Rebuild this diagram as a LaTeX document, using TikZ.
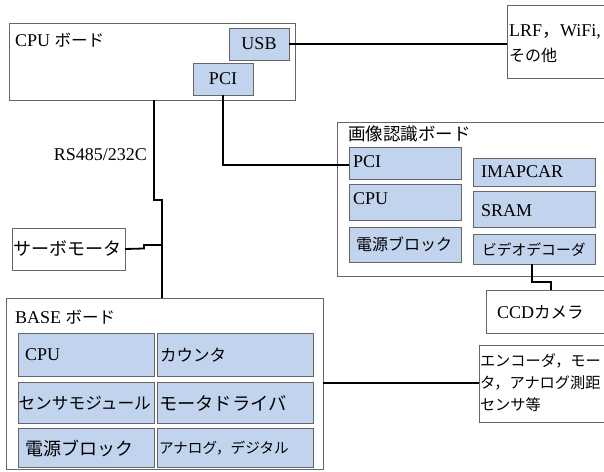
\documentclass[tikz,border=0pt]{standalone}
\usepackage{fontspec}
\setmainfont{Liberation Serif}
\newfontfamily\jp{Noto Sans CJK JP}
\begin{document}
\begin{tikzpicture}[x=1pt,y=-1pt,
  every node/.style={inner sep=0pt, outer sep=0pt},
  board/.style={draw=black!60, fill=white, line width=1pt, anchor=north west},
  cell/.style={draw=black!60, fill=cellblue, line width=1pt, anchor=north west},
  wire/.style={draw=black, line width=1.8pt},
  lbl/.style={font=\fontsize{18}{20}\selectfont, anchor=west},
  clbl/.style={font=\fontsize{18}{20}\selectfont}
]
\definecolor{cellblue}{RGB}{194,211,237}
\clip (0,0) rectangle (604,471);
\fill[white] (0,0) rectangle (604,471);

% CPU board
\node[board, minimum width=286pt, minimum height=77pt] (cpub) at (9,23) {};
\node[lbl] (cpubt) at (15,40) {CPU {\jp\fontsize{16.5}{18}\selectfont ボード}};
\node[cell, minimum width=60pt, minimum height=32pt] (usb) at (229,28) {};
\node[clbl] at (usb.center) {USB};
\node[cell, minimum width=60pt, minimum height=32pt] (pci1) at (193,63) {};
\node[clbl] at (pci1.center) {PCI};

% LRF
\node[board, minimum width=110pt, minimum height=73pt] (lrf) at (507,5) {};
\node[lbl] (lrft1) at (509,32) {LRF{\jp ，}WiFi,};
\node[lbl] (lrft2) at (509,55) {\jp\fontsize{16}{18}\selectfont その他};

% Image board
\node[board, minimum width=280pt, minimum height=154pt] (imgb) at (337,122) {};
\node[lbl] (imgbt) at (348,134) {\jp\fontsize{17.5}{18}\selectfont 画像認識ボード};
\node[cell, minimum width=112pt, minimum height=32pt] (pci2) at (349,147) {};
\node[lbl] at (353,162) {PCI};
\node[cell, minimum width=112pt, minimum height=36pt] (cpu2) at (349,184) {};
\node[lbl] at (353,199) {CPU};
\node[cell, minimum width=112pt, minimum height=35pt] (pow2) at (349,227) {};
\node[lbl] at (356,244) {\jp\fontsize{16}{18}\selectfont 電源ブロック};
\node[cell, minimum width=122pt, minimum height=28pt] (imap) at (473,158) {};
\node[lbl] at (481,172) {IMAPCAR};
\node[cell, minimum width=122pt, minimum height=36pt] (sram) at (473,191) {};
\node[lbl] at (481,211) {SRAM};
\node[cell, minimum width=122pt, minimum height=30pt] (vdec) at (473,234) {};
\node[lbl] at (482,250) {\jp\fontsize{14.8}{18}\selectfont ビデオデコーダ};

% CCD camera
\node[board, minimum width=130pt, minimum height=43pt] (ccd) at (486,290) {};
\node[lbl] at (497,312) {CCD{\jp\fontsize{16.5}{18}\selectfont カメラ}};

% Encoder
\node[board, minimum width=130pt, minimum height=77pt] (enc) at (479,345) {};
\node[lbl] at (480,361) {\jp\fontsize{15.2}{18}\selectfont エンコーダ，モー};
\node[lbl] at (480,383) {\jp\fontsize{15.2}{18}\selectfont タ，アナログ測距};
\node[lbl] at (480,405) {\jp\fontsize{15.2}{18}\selectfont センサ等};

% Servo
\node[board, minimum width=113pt, minimum height=42pt] (servo) at (12,228) {};
\node[lbl] at (13,249) {\jp\fontsize{18}{18}\selectfont サーボモータ};

% BASE board
\node[board, minimum width=317pt, minimum height=171pt] (base) at (6,298) {};
\node[lbl] at (15,317) {BASE {\jp\fontsize{16.5}{18}\selectfont ボード}};
\node[cell, minimum width=136pt, minimum height=43pt] (cpu3) at (18,333) {};
\node[lbl] at (25,355) {CPU};
\node[cell, minimum width=156pt, minimum height=43pt] (cnt) at (157,333) {};
\node[lbl] at (160,355) {\jp\fontsize{16.5}{18}\selectfont カウンタ};
\node[cell, minimum width=136pt, minimum height=41pt] (sens) at (18,382) {};
\node[lbl] at (18.5,403) {\jp\fontsize{16.7}{18}\selectfont センサモジュール};
\node[cell, minimum width=156pt, minimum height=41pt] (mdrv) at (157,382) {};
\node[lbl] at (159,403) {\jp\fontsize{18.3}{18}\selectfont モータドライバ};
\node[cell, minimum width=136pt, minimum height=39pt] (pow3) at (18,428) {};
\node[lbl] at (25,448) {\jp\fontsize{18}{18}\selectfont 電源ブロック};
\node[cell, minimum width=156pt, minimum height=39pt] (ana) at (157,428) {};
\node[lbl] at (159,448) {\jp\fontsize{14.6}{18}\selectfont アナログ，デジタル};

% RS485 label
\node[font=\fontsize{18}{20}\selectfont, anchor=east] (rs) at (147,155) {RS485/232C};

% connectors
\coordinate (j1) at (154,200);
\coordinate (j2) at (162,200);
\coordinate (j3) at (162,245);
\draw[wire] (cpub.south -| j1) -- (j1) -- (j2) -- (base.north -| j2);
\draw[wire] (servo.east) -- (144,248.5) -- (144,245) -- (j3);
\draw[wire] (usb.east) -- (usb.east -| lrf.west);
\draw[wire] (pci1.south -| 223,0) -- (223,165) -- (pci2.west |- 0,165);
\draw[wire] (vdec.south -| 532,0) -- (532,282) -- (551,282) -- (ccd.north -| 551,0);
\draw[wire] (base.east |- 0,383) -- (enc.west |- 0,383);
\end{tikzpicture}
\end{document}
